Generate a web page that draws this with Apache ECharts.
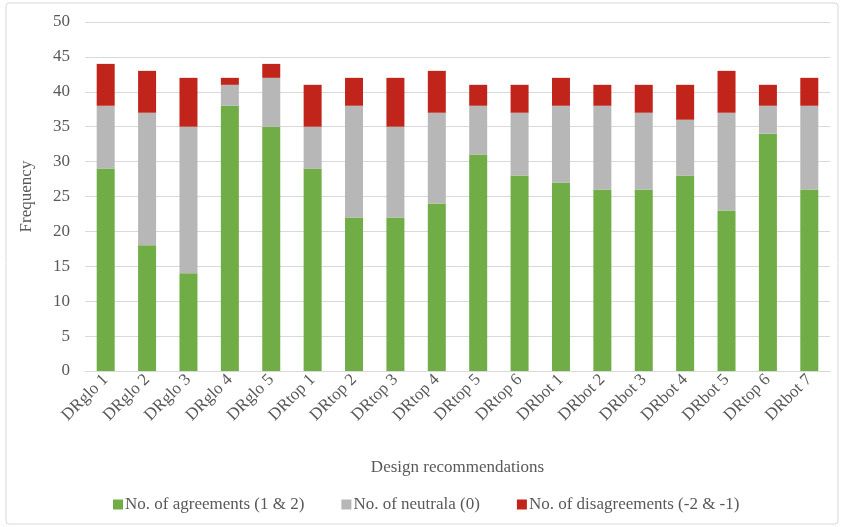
<!DOCTYPE html>
<html>
<head>
<meta charset="utf-8">
<script src="https://cdn.jsdelivr.net/npm/echarts@6/dist/echarts.min.js"></script>
<style>
  html, body { margin: 0; padding: 0; background: #fff; }
  #chart { width: 843px; height: 527px; }
</style>
</head>
<body>
<div id="chart"></div>
<script>
// Design recommendations on the x axis
const categories = [
  'DRglo 1', 'DRglo 2', 'DRglo 3', 'DRglo 4', 'DRglo 5',
  'DRtop 1', 'DRtop 2', 'DRtop 3', 'DRtop 4', 'DRtop 5', 'DRtop 6',
  'DRbot 1', 'DRbot 2', 'DRbot 3', 'DRbot 4', 'DRbot 5', 'DRtop 6', 'DRbot 7'
];

// Stacked frequencies per recommendation
const agreements    = [29, 18, 14, 38, 35, 29, 22, 22, 24, 31, 28, 27, 26, 26, 28, 23, 34, 26];
const neutrals      = [ 9, 19, 21,  3,  7,  6, 16, 13, 13,  7,  9, 11, 12, 11,  8, 14,  4, 12];
const disagreements = [ 6,  6,  7,  1,  2,  6,  4,  7,  6,  3,  4,  4,  3,  4,  5,  6,  3,  4];

const seriesNames = [
  'No. of agreements (1 & 2)',
  'No. of neutrala (0)',
  'No. of disagreements (-2 & -1)'
];

const FONT = '"Liberation Serif", "Times New Roman", serif';
const TEXT = '#595959';
const GRID = '#d9d9d9';
const FS = 17;

const chart = echarts.init(document.getElementById('chart'), null, { renderer: 'canvas' });

chart.setOption({
  backgroundColor: '#ffffff',
  animation: false,
  textStyle: { fontFamily: FONT, color: TEXT },
  graphic: [{
    type: 'rect',
    shape: { x: 6, y: 3, width: 832, height: 521, r: 3 },
    style: { fill: 'none', stroke: GRID, lineWidth: 1 },
    silent: true
  }],
  grid: { left: 85, right: 13, top: 22, bottom: 156, containLabel: false },
  legend: {
    bottom: 9,
    left: 108,
    itemWidth: 10,
    itemHeight: 10,
    itemGap: 37,
    icon: 'rect',
    textStyle: { fontFamily: FONT, fontSize: FS, color: TEXT, padding: [0, 0, 0, -3] },
    data: seriesNames
  },
  xAxis: {
    type: 'category',
    data: categories,
    name: 'Design recommendations',
    nameLocation: 'middle',
    nameGap: 88,
    nameTextStyle: { fontFamily: FONT, fontSize: FS, color: TEXT },
    axisLine: { lineStyle: { color: GRID, width: 1 } },
    axisTick: { show: false },
    axisLabel: {
      rotate: 45,
      interval: 0,
      margin: 6,
      fontFamily: FONT,
      fontSize: FS,
      color: TEXT
    }
  },
  yAxis: {
    type: 'value',
    min: 0,
    max: 50,
    interval: 5,
    name: 'Frequency',
    nameLocation: 'middle',
    nameGap: 50,
    nameTextStyle: { fontFamily: FONT, fontSize: FS, color: TEXT },
    axisLine: { show: false },
    axisTick: { show: false },
    axisLabel: { margin: 15, fontFamily: FONT, fontSize: FS, color: TEXT },
    splitLine: { lineStyle: { color: GRID, width: 1 } }
  },
  series: [
    {
      name: seriesNames[0], type: 'bar', stack: 'total', barWidth: 18,
      itemStyle: { color: '#70ad47' }, data: agreements
    },
    {
      name: seriesNames[1], type: 'bar', stack: 'total', barWidth: 18,
      itemStyle: { color: '#b7b7b7' }, data: neutrals
    },
    {
      name: seriesNames[2], type: 'bar', stack: 'total', barWidth: 18,
      itemStyle: { color: '#c0241a' }, data: disagreements
    }
  ]
});
</script>
</body>
</html>
